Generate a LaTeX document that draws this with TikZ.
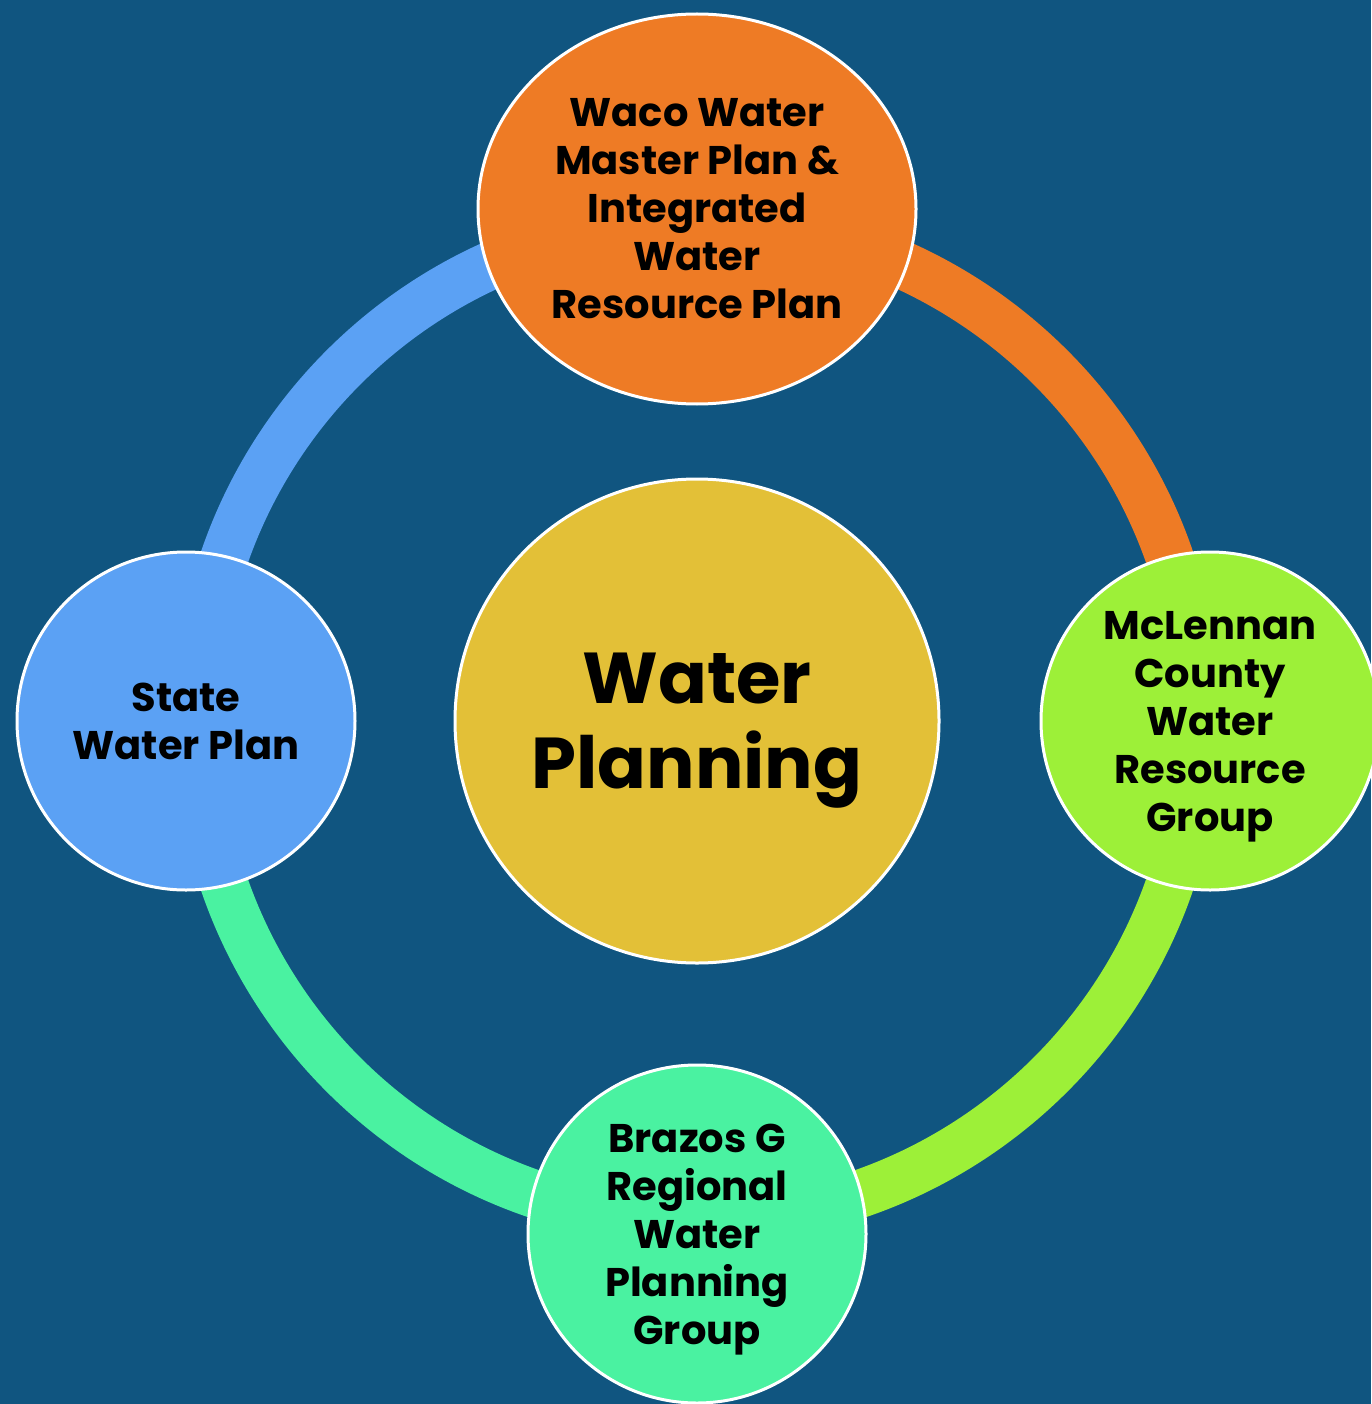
\documentclass[tikz,border=0pt]{standalone}
\usepackage{fontspec}
\setmainfont{Poppins}
\usetikzlibrary{shapes.geometric}
\definecolor{bgblue}{RGB}{16,85,128}
\definecolor{cblue}{RGB}{91,161,244}
\definecolor{corange}{RGB}{238,123,37}
\definecolor{clime}{RGB}{157,240,56}
\definecolor{caqua}{RGB}{74,242,161}
\definecolor{cgold}{RGB}{227,192,55}
\newcommand\topst{\rule{0pt}{44pt}}
\newcommand\botst{\rule[-16pt]{0pt}{16pt}}
\newcommand\bigtopst{\rule{0pt}{76pt}}
\newcommand\bigbotst{\rule[-26pt]{0pt}{26pt}}
\begin{document}
\begin{tikzpicture}[x=1pt,y=-1pt,
  lbl/.style={font=\bfseries\fontsize{40}{48}\selectfont, align=center, text=black,
              inner sep=0pt, draw=white, line width=3pt},
  sat/.style={lbl, circle, minimum size=338pt},
  ringarc/.style={line width=48pt}]
\fill[bgblue] (0,0) rectangle (1371,1404);
\useasboundingbox (0,0) rectangle (1371,1404);
\coordinate (ringc) at (697,721);
% ring segments
\draw[ringarc, cblue]   (ringc) ++(180:500pt) arc[start angle=180, end angle=90,   radius=500pt];
\draw[ringarc, corange] (ringc) ++(90:500pt)  arc[start angle=90,  end angle=0,    radius=500pt];
\draw[ringarc, clime]   (ringc) ++(0:500pt)   arc[start angle=0,   end angle=-90,  radius=500pt];
\draw[ringarc, caqua]   (ringc) ++(-90:500pt) arc[start angle=-90, end angle=-180, radius=500pt];
% nodes
\node[lbl, circle, minimum size=484pt, fill=cgold, font=\bfseries\fontsize{72}{85}\selectfont]
  (hub) at (697,721) {\bigtopst Water\\Planning\bigbotst};
\node[lbl, ellipse, minimum width=438pt, minimum height=390pt, fill=corange]
  (waco) at (697,209) {\topst Waco Water\\Master Plan \&\\Integrated\\Water\\Resource Plan\botst};
\node[sat, fill=cblue] (state) at (186,721) {\topst State\\Water Plan\botst};
\node[sat, fill=clime] (mclennan) at (1210,721) {\topst McLennan\\County\\Water\\Resource\\Group\botst};
\node[sat, fill=caqua] (brazos) at (697,1234) {\topst Brazos G\\Regional\\Water\\Planning\\Group\botst};
\end{tikzpicture}
\end{document}
